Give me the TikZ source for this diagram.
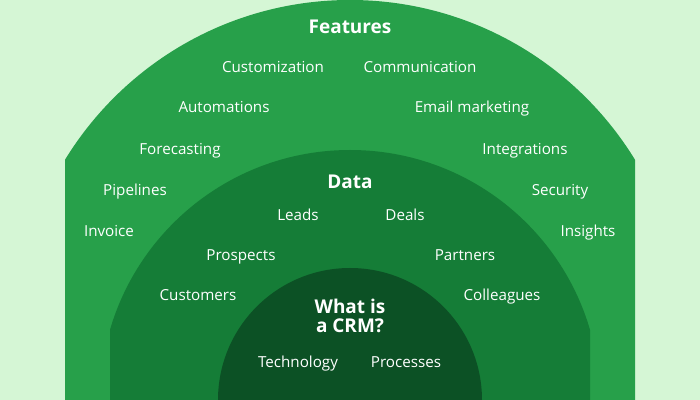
\documentclass[tikz,border=0pt]{standalone}
\usepackage{fontspec}
\setmainfont{Open Sans}
\usetikzlibrary{positioning}
\definecolor{bgmint}{HTML}{D5F6D5}
\definecolor{outergreen}{HTML}{27A04A}
\definecolor{midgreen}{HTML}{157D37}
\definecolor{innergreen}{HTML}{0C5125}
\tikzset{
    every node/.style={font=\fontsize{10.8}{12}\selectfont, text=white},
    ringtitle/.style={font=\fontsize{13.5}{15}\selectfont\bfseries, align=center},
    item/.style={inner sep=1pt, text height=1.6ex, text depth=0.4ex},
}
\begin{document}
\begin{tikzpicture}[x=0.025cm, y=-0.025cm]
\fill[bgmint] (0,0) rectangle (700,400);
\useasboundingbox (0,0) rectangle (700,400);
% the three rings, clipped at the sides and the bottom
\begin{scope}
\clip (65,0) rectangle (635,400);
\fill[outergreen] (350,334) circle (334);
\end{scope}
\begin{scope}
\clip (110,0) rectangle (590,400);
\fill[midgreen] (350,400) circle (250);
\end{scope}
\begin{scope}
\clip (0,0) rectangle (700,400);
\fill[innergreen] (350,400) circle (132);
\end{scope}
% titles
\node[ringtitle] (features) at (350,27) {Features};
\node[ringtitle] (data) at (350,182) {Data};
\node[ringtitle] (crm) at (350,316) {What is\\[-2pt]a CRM?};
% outer ring
\foreach \name/\x/\y/\txt in {custom/273/68/Customization, comm/420/68/Communication,
    auto/224/108/Automations, email/472/108/Email marketing,
    fcast/180/150/Forecasting, integ/525/150/Integrations,
    pipe/135/191/Pipelines, secur/560/191/Security,
    invoice/109/232/Invoice, insight/588/232/Insights}
    \node[item] (\name) at (\x,\y) {\txt};
% middle ring
\foreach \name/\x/\y/\txt in {leads/298/216/Leads, deals/405/216/Deals,
    prosp/241/256/Prospects, partn/465/256/Partners,
    cust/198/296/Customers, colleag/502/296/Colleagues}
    \node[item] (\name) at (\x,\y) {\txt};
% inner ring
\node[item] (tech) at (298,363) {Technology};
\node[item] (proc) at (406,363) {Processes};
\end{tikzpicture}
\end{document}
